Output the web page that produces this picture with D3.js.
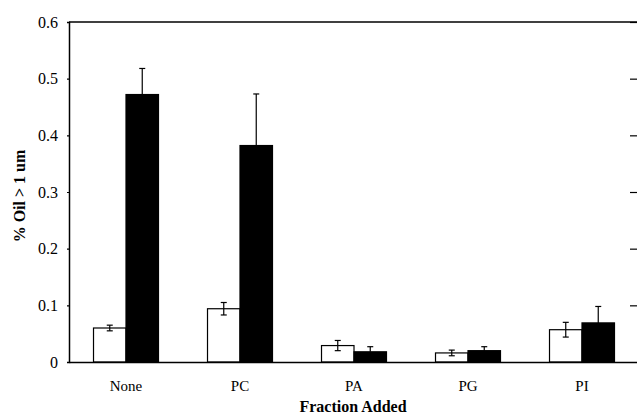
<!DOCTYPE html>
<html>
<head>
<meta charset="utf-8">
<script src="https://cdn.jsdelivr.net/npm/d3@7"></script>
<style>
  body { margin: 0; background: #fff; }
  text { font-family: "Liberation Serif", "Times New Roman", serif; fill: #000; }
</style>
</head>
<body>
<svg width="637" height="418"></svg>
<script>
var categories = ["None", "PC", "PA", "PG", "PI"];
var series = ["open", "filled"];
var openValues = [0.060, 0.094, 0.029, 0.016, 0.057];
var openErrors = [0.005, 0.011, 0.009, 0.005, 0.013];
var filledValues = [0.472, 0.382, 0.018, 0.020, 0.069];
var filledErrors = [0.046, 0.091, 0.009, 0.007, 0.029];
var yTicks = [0, 0.1, 0.2, 0.3, 0.4, 0.5, 0.6];
var yTickLabels = ["0", "0.1", "0.2", "0.3", "0.4", "0.5", "0.6"];

var svg = d3.select("svg");
var margin = {top: 22, right: -2, bottom: 56, left: 69};
var width = +svg.attr("width") - margin.left - margin.right;
var height = +svg.attr("height") - margin.top - margin.bottom;

var g = svg.append("g")
  .attr("transform", "translate(" + margin.left + "," + margin.top + ")");

var x = d3.scaleBand().domain(categories).range([0, width])
  .paddingInner(0.43).paddingOuter(0.215);
var xs = d3.scaleBand().domain(series).range([0, x.bandwidth()]);
var y = d3.scaleLinear().domain([0, 0.6]).range([height, 0]);

// rows built from the arrays
var rows = [];
categories.forEach(function(c, i) {
  rows.push({cat: c, s: "open", v: openValues[i], e: openErrors[i]});
  rows.push({cat: c, s: "filled", v: filledValues[i], e: filledErrors[i]});
});

// bars
g.selectAll(".bar")
  .data(rows)
  .enter().append("rect")
  .attr("class", "bar")
  .attr("x", function(d) { return x(d.cat) + xs(d.s); })
  .attr("y", function(d) { return y(d.v); })
  .attr("width", xs.bandwidth())
  .attr("height", function(d) { return height - y(d.v); })
  .style("fill", function(d) { return d.s === "open" ? "#fff" : "#000"; })
  .style("stroke", "#000")
  .style("stroke-width", 1.2);

// error bars
var cap = 3;
var err = g.selectAll(".err")
  .data(rows)
  .enter().append("g")
  .attr("class", "err")
  .style("stroke", "#000")
  .style("stroke-width", 1.2);

function cx(d) { return x(d.cat) + xs(d.s) + xs.bandwidth() / 2; }
function lowEnd(d) { return d.s === "open" ? d.v - d.e : d.v; }

err.append("line")
  .attr("x1", cx).attr("x2", cx)
  .attr("y1", function(d) { return y(d.v + d.e); })
  .attr("y2", function(d) { return y(lowEnd(d)); });
err.append("line")
  .attr("x1", function(d) { return cx(d) - cap; })
  .attr("x2", function(d) { return cx(d) + cap; })
  .attr("y1", function(d) { return y(d.v + d.e); })
  .attr("y2", function(d) { return y(d.v + d.e); });
err.filter(function(d) { return d.s === "open"; })
  .append("line")
  .attr("x1", function(d) { return cx(d) - cap; })
  .attr("x2", function(d) { return cx(d) + cap; })
  .attr("y1", function(d) { return y(d.v - d.e); })
  .attr("y2", function(d) { return y(d.v - d.e); });

// left axis
var yAxis = g.append("g")
  .call(d3.axisLeft(y).tickValues(yTicks).tickSize(2)
    .tickFormat(function(d, i) { return yTickLabels[i]; }));
yAxis.selectAll("text")
  .attr("x", -11)
  .style("font-size", "16px");

// right axis, inward ticks, spine just outside the picture
var rAxis = g.append("g")
  .attr("transform", "translate(" + width + ",0)")
  .call(d3.axisRight(y).tickValues(yTicks).tickSize(-9).tickFormat(""));
rAxis.select(".domain").remove();
rAxis.select(".tick").remove();

// top frame line
g.append("line")
  .attr("x1", 0).attr("x2", width)
  .attr("y1", 0).attr("y2", 0)
  .style("stroke", "#000").style("stroke-width", 1.5);

// bottom axis
var xAxis = g.append("g")
  .attr("transform", "translate(0," + height + ")")
  .call(d3.axisBottom(x).tickSize(0).tickPadding(18));
xAxis.selectAll("text").style("font-size", "15px");

g.selectAll(".domain").style("stroke", "#000").style("stroke-width", 1.5);
g.selectAll(".tick line").style("stroke", "#000").style("stroke-width", 1.2);

// axis titles
g.append("text")
  .attr("x", width / 2 - 1)
  .attr("y", height + 50)
  .attr("text-anchor", "middle")
  .style("font-size", "16px")
  .style("font-weight", "bold")
  .text("Fraction Added");

g.append("text")
  .attr("transform", "translate(-44," + (height / 2 + 4) + ") rotate(-90)")
  .attr("text-anchor", "middle")
  .style("font-size", "16px")
  .style("font-weight", "bold")
  .text("% Oil > 1 um");
</script>
</body>
</html>
